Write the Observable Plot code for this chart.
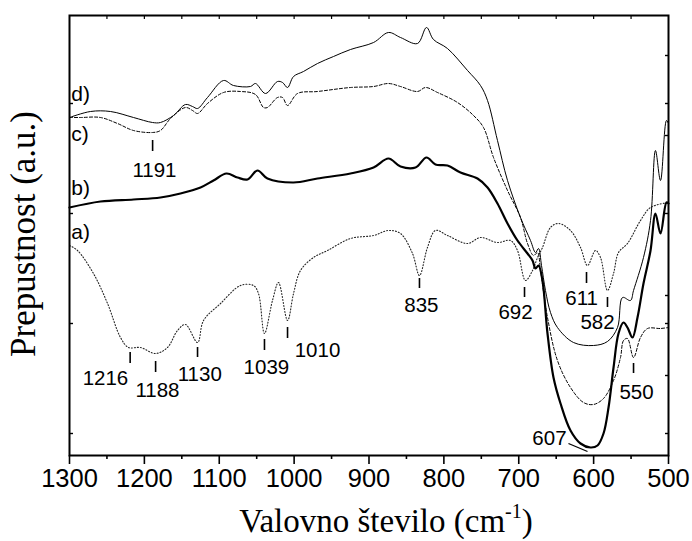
<!DOCTYPE html>
<html><head><meta charset="utf-8">
<script src="https://cdn.jsdelivr.net/npm/d3@7"></script>
<script src="https://cdn.jsdelivr.net/npm/@observablehq/plot@0.6"></script>
<style>body{margin:0;background:#fff}</style>
</head><body><div id="chart"></div>
<script>
// a) dotted
const waveA = [1300,1289.3,1268,1249.2,1231.9,1221.2,1205.2,1185.1,1169.1,1155.8,1145.1,1129,1121,1098.3,1071.6,1054.3,1047.6,1039.6,1028.9,1020.9,1008.8,1000.8,991.5,974.1,955.4,924.7,893.9,874,857.9,841.9,832.6,821.9,811.2,795.2,768.4,751.1,728.4,711,701.7,691,681.6,674.9,668.3,657.6,646.9,630.9,617.5,608.2,597.5,590.8,581.5,573.4,566.8,554.8,537.4,524,500];
const transA = [210,205,182,152,118,108,108,102,108,125,131,113,135,152,170,170,162,122,155,173,135,162,185,198,205,217,220,225,222,202,180,208,225,220,212,218,213,215,205,175,185,198,208,228,232,225,208,190,205,198,165,182,203,212,235,248,253];
// b) thick solid
const waveB = [1300,1258.6,1214.5,1178.5,1151.8,1125,1107.7,1090.3,1075.6,1062.3,1048.9,1035.6,1000.8,968.8,924.7,893.9,874,857.9,837.9,823.2,811.2,795.2,777.8,755.1,741.7,728.4,715,701.7,688.3,681.6,677.6,673.6,668.3,661.6,653.6,644.2,630.9,617.5,604.2,594.8,586.8,580.1,573.4,566.8,560.1,554.8,548.1,541.4,533.4,524,517.4,510.7,502.7,500];
const transB = [248,254,256,258,262,268,275,282,278,276,285,277,273,277,282,288,297,289,288,298,291,290,283,277,268,252,232,215,202,195,187,190,175,122,78,52,25,12,8,10,22,48,88,122,133,128,118,138,172,205,242,222,253,252];
// c) dashed
const waveC = [1300,1285.3,1258.6,1235.9,1214.5,1189.1,1178.5,1165.1,1145.1,1135.7,1129,1115.7,1094.3,1071.6,1051.6,1040.9,1035.6,1022.2,1015.5,1008.8,995.5,968.8,924.7,893.9,874,857.9,835.2,824.5,808.5,781.8,760.4,747.1,733.7,715,697.7,688.3,680.3,674.9,670.9,661.6,648.3,630.9,613.5,600.2,586.8,573.4,564.1,560.1,554.8,546.7,537.4,528,510.7,500];
const transC = [338,338,338,332,325,323,325,337,348,345,342,352,363,364,361,348,348,358,358,350,362,364,368,369,372,369,364,368,363,353,340,328,298,265,238,212,200,203,185,138,95,68,53,51,57,75,98,115,117,98,118,127,127,128];
// d) thin solid
const waveD = [1300,1272,1245.2,1214.5,1189.1,1178.5,1161.1,1145.1,1135.7,1129,1115.7,1094.3,1081,1058.3,1051.6,1038.2,1022.2,1015.5,1008.8,1000.8,987.5,968.8,947.4,924.7,893.9,874,857.9,835.2,823.2,813.9,795.2,768.4,751.1,741.7,728.4,715,697.7,684.3,677.6,673.6,669.6,664.3,657.6,648.3,626.9,600.2,581.5,568.1,561.4,550.8,546.7,533.4,524,517.4,510.7,502.7,500];
const transD = [338,344,344,338,333,333,340,351,349,347,358,375,370,369,372,362,374,373,368,379,384,392,399,406,413,423,418,412,428,416,407,385,370,355,315,275,238,215,203,207,190,165,143,128,113,110,114,128,158,155,165,198,235,305,275,335,332];

const xTicksMajor = [1300,1200,1100,1000,900,800,700,600,500];
const xTicksMinor = [1250,1150,1050,950,850,750,650,550];
const xTicksTop = [1250,1200,1150,1100,1050,1000,950,900,850,800,750,700,650,600,550];
const yTicksLeft = [22,132,242,352];
const yTicksRight = [22,80,132,160,242,320,352,400];

const curveNames = ["a)","b)","c)","d)"];
const curveNameTrans = [223,267,321,361];

const peakLabels = ["1216","1188","1130","1039","1010","835","692","611","582","550","1191"];
const peakWave = [1219,1185,1129,1039.6,1008.8,832.6,692.3,609.5,581.5,546.7,1189];
const peakTickTop = [103,94,108,116,128,177,168,183,158,92,315];
const peakTickBottom = [92,83,98,105,117,167,158,172,148,82,304];
const peakLabelWave = [1252,1182.5,1126,1037,968.8,830,704.3,616,594.8,542.7,1186.5];
const peakLabelTrans = [77,65,81,88,105,150,143,157,133,63,285];

const minLabel = "607";
const minLabelWave = 659; const minLabelTrans = 17;
const minLeader = {x1: 633.6, y1: 12, x2: 608.2, y2: 4};

const mk = (w, t) => w.map((x, i) => ({w: x, t: t[i]}));
const dA = mk(waveA, transA), dB = mk(waveB, transB), dC = mk(waveC, transC), dD = mk(waveD, transD);
const peaks = peakLabels.map((l, i) => ({l, w: peakWave[i], y1: peakTickBottom[i], y2: peakTickTop[i], lw: peakLabelWave[i], lt: peakLabelTrans[i]}));
const names = curveNames.map((n, i) => ({n, t: curveNameTrans[i]}));

const sans = "'Liberation Sans', Arial, sans-serif";
const serif = "'Liberation Serif', 'Times New Roman', serif";

const chart = Plot.plot({
  width: 692, height: 541,
  marginLeft: 69, marginRight: 24, marginTop: 15, marginBottom: 86,
  x: {domain: [1300, 500]},
  y: {domain: [0, 440]},
  style: {fontFamily: sans, background: "#fff", color: "#000"},
  marks: [
    Plot.line(dA, {x: "w", y: "t", curve: "catmull-rom", stroke: "#222", strokeWidth: 1.1, strokeDasharray: "1,2"}),
    Plot.line(dC, {x: "w", y: "t", curve: "catmull-rom", stroke: "#000", strokeWidth: 1, strokeDasharray: "3,2"}),
    Plot.line(dD, {x: "w", y: "t", curve: "catmull-rom", stroke: "#000", strokeWidth: 1}),
    Plot.line(dB, {x: "w", y: "t", curve: "catmull-rom", stroke: "#000", strokeWidth: 2.2}),
    Plot.ruleX(peaks, {x: "w", y1: "y1", y2: "y2", stroke: "#000", strokeWidth: 1.6}),
    Plot.text(peaks, {x: "lw", y: "lt", text: "l", fontSize: 20.5, fill: "#000"}),
    Plot.text([minLabel], {x: minLabelWave, y: minLabelTrans, text: d => d, fontSize: 20.5, fill: "#000"}),
    Plot.link([minLeader], {x1: "x1", y1: "y1", x2: "x2", y2: "y2", stroke: "#000", strokeWidth: 1.3}),
    Plot.text(names, {x: 1297.5, y: "t", text: "n", textAnchor: "start", fontSize: 21, fill: "#000"}),
    Plot.frame({stroke: "#000", strokeWidth: 2}),
    Plot.axisX(xTicksMajor, {anchor: "bottom", tickSize: 9, tickPadding: 4, fontSize: 25.5, strokeWidth: 1.6, label: null, tickFormat: d => String(d)}),
    Plot.axisX(xTicksMinor, {anchor: "bottom", tickSize: 4, strokeWidth: 1.6, label: null, tickFormat: () => ""}),
    Plot.axisX(xTicksTop, {anchor: "top", tickSize: -3, strokeWidth: 1.2, label: null, tickFormat: () => ""}),
    Plot.axisY(yTicksLeft, {anchor: "left", tickSize: -4, strokeWidth: 1.4, label: null, tickFormat: () => ""}),
    Plot.axisY(yTicksRight, {anchor: "right", tickSize: -4, strokeWidth: 1.4, label: null, tickFormat: () => ""})
  ]
});
document.getElementById("chart").appendChild(chart);

const svg = d3.select(chart);
const xt = svg.append("text")
  .attr("x", 386).attr("y", 532)
  .attr("text-anchor", "middle")
  .attr("font-family", serif).attr("font-size", 33).attr("fill", "#000");
xt.append("tspan").text("Valovno število (cm");
xt.append("tspan").attr("font-size", 20).attr("dy", -14).text("-1");
xt.append("tspan").attr("dy", 14).text(")");

svg.append("text")
  .attr("transform", "translate(35,234) rotate(-90)")
  .attr("text-anchor", "middle")
  .attr("font-family", serif).attr("font-size", 35).attr("fill", "#000")
  .text("Prepustnost (a.u.)");
</script>
</body></html>
